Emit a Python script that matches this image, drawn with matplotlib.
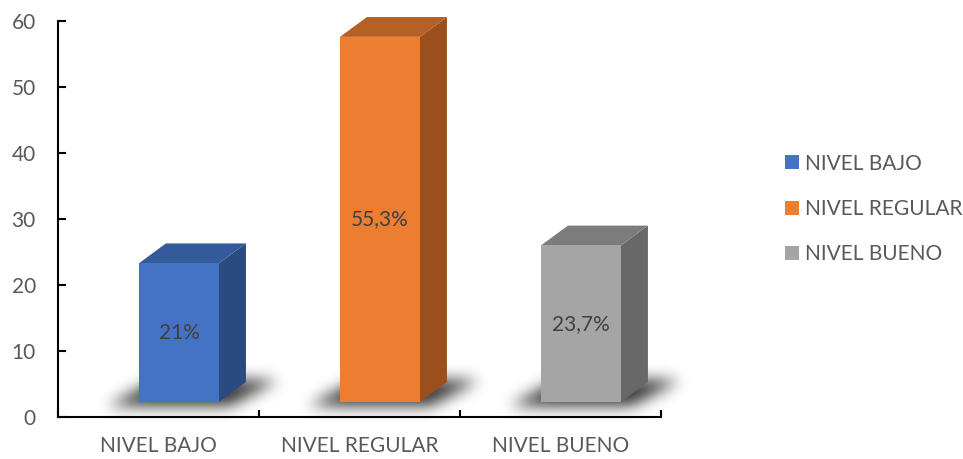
import numpy as np
import matplotlib
matplotlib.use("Agg")
import matplotlib.pyplot as plt
from matplotlib.patches import Polygon, Patch
from matplotlib.path import Path

# Data
categories = ["NIVEL BAJO", "NIVEL REGULAR", "NIVEL BUENO"]
values = [21.0, 55.3, 23.7]
front_colors = ["#4472C4", "#ED7D31", "#A5A5A5"]
top_colors = ["#345A9C", "#B56024", "#7C7C7C"]
side_colors = ["#2B4A80", "#9B4F1D", "#686868"]
yticks = [0, 10, 20, 30, 40, 50, 60]

plt.rcParams["font.family"] = ["Lato", "DejaVu Sans"]
TEXT = "#595959"
FS = 15

W, H, DPI = 963, 459, 100
fig = plt.figure(figsize=(W / DPI, H / DPI), dpi=DPI)
ax = fig.add_axes([58 / W, 42 / H, 603 / W, 396 / H])
ax.set_xlim(-0.5, 2.5)
ax.set_ylim(0, 60)

# 3D box geometry (data units)
BASE = 2.3       # floor lift of the bars
OFF = -0.097     # front-face left edge relative to category centre
BW = 0.398       # front-face width
DX, DY = 0.134, 3.0  # depth offset

xc = np.arange(len(categories))
for i, (c, v) in enumerate(zip(xc, values)):
    x0 = c + OFF
    x1 = x0 + BW
    y0 = BASE
    y1 = BASE + v
    side = [(x1, y0), (x1 + DX, y0 + DY), (x1 + DX, y1 + DY), (x1, y1)]
    top = [(x0, y1), (x1, y1), (x1 + DX, y1 + DY), (x0 + DX, y1 + DY)]
    front = [(x0, y0), (x1, y0), (x1, y1), (x0, y1)]
    ax.add_patch(Polygon(side, closed=True, fc=side_colors[i], ec="none", zorder=3, clip_on=False))
    ax.add_patch(Polygon(top, closed=True, fc=top_colors[i], ec="none", zorder=3, clip_on=False))
    ax.add_patch(Polygon(front, closed=True, fc=front_colors[i], ec="none", zorder=4, clip_on=False))
    label = f"{v:g}".replace(".", ",") + "%"
    ax.text((x0 + x1) / 2, BASE + v / 2, label, ha="center", va="center",
            fontsize=FS, color="#404040", zorder=5)

# Soft floor shadows rendered as a blurred raster
fig.canvas.draw()
yy, xx = np.mgrid[0:H, 0:W]
pts = np.column_stack([xx.ravel() + 0.5, yy.ravel() + 0.5])
mask = np.zeros(H * W)
EXT = 0.16
for c in xc:
    x0 = c + OFF
    x1 = x0 + BW
    poly = [(x0 - EXT, BASE - 0.7), (x1 + EXT * 0.3, BASE - 0.7),
            (x1 + DX + EXT, BASE + DY + 0.3), (x0 + DX - EXT * 0.3, BASE + DY + 0.3)]
    disp = ax.transData.transform(poly)
    mask = np.maximum(mask, Path(disp).contains_points(pts).astype(float))
mask = mask.reshape(H, W)

sigma = 7.5
r = int(3 * sigma)
k = np.exp(-0.5 * (np.arange(-r, r + 1) / sigma) ** 2)
k /= k.sum()
pad = np.pad(mask, r)
tmp = sum(k[j] * pad[:, j:j + W] for j in range(2 * r + 1))
blur = sum(k[j] * tmp[j:j + H, :] for j in range(2 * r + 1))
rgba = np.zeros((H, W, 4))
rgba[..., 3] = np.clip(blur * 0.8, 0, 1)
inv = ax.transData.inverted()
(ex0, ey0), (ex1, ey1) = inv.transform([(0, 0), (W, H)])
ax.imshow(rgba, extent=[ex0, ex1, ey0, ey1], origin="lower", aspect="auto",
          zorder=1, clip_on=False, interpolation="nearest")
ax.set_xlim(-0.5, 2.5)
ax.set_ylim(0, 60)

# Axes styling
for s in ["top", "right"]:
    ax.spines[s].set_visible(False)
for s in ["left", "bottom"]:
    ax.spines[s].set_linewidth(1.5)
    ax.spines[s].set_color("black")
    ax.spines[s].set_zorder(6)

ax.set_yticks(yticks)
ax.tick_params(axis="y", direction="in", length=5.5, width=1.5, pad=16,
               labelsize=FS, labelcolor=TEXT)
ax.set_xticks([-0.5, 0.5, 1.5, 2.5])
ax.set_xticklabels([])
ax.set_xticks(xc, minor=True)
ax.set_xticklabels(categories, minor=True)
ax.tick_params(axis="x", which="major", direction="in", length=5, width=1.5)
ax.tick_params(axis="x", which="minor", length=0, pad=14, labelsize=FS, labelcolor=TEXT)

handles = [Patch(fc=col, ec="none") for col in front_colors]
leg = fig.legend(handles, categories, loc="center left", bbox_to_anchor=(785 / W, 1 - 209 / H),
                 frameon=False, fontsize=FS, handlelength=0.65, handleheight=0.65,
                 handletextpad=0.3, labelspacing=1.22, borderpad=0, borderaxespad=0)
for t in leg.get_texts():
    t.set_color(TEXT)

fig.savefig("out.png", dpi=DPI)
